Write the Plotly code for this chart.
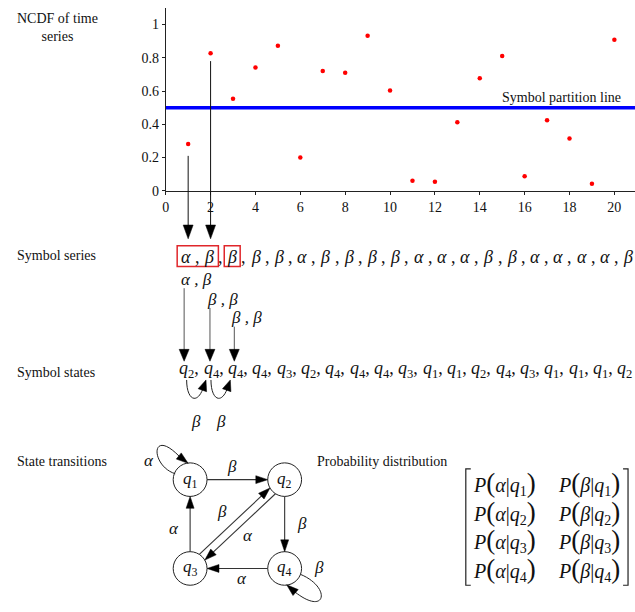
import math
import plotly.graph_objects as go

W, H = 635, 612
SERIF = "Liberation Serif"

# ---------------- data ----------------
time_index = list(range(1, 21))
ncdf_values = [0.281, 0.827, 0.554, 0.742, 0.873, 0.200, 0.720, 0.710, 0.933, 0.603,
               0.061, 0.055, 0.412, 0.677, 0.810, 0.087, 0.424, 0.315, 0.042, 0.909]
partition_level = 0.5
symbol_series = ['α', 'β', 'β', 'β', 'β', 'α', 'β', 'β', 'β', 'β',
                 'α', 'α', 'α', 'β', 'β', 'α', 'α', 'α', 'α', 'β']
state_series = [2, 4, 4, 4, 3, 2, 4, 4, 4, 3, 1, 1, 2, 4, 3, 1, 1, 1, 2]
x_tick_vals = list(range(0, 21, 2))
y_tick_vals = [0, 0.2, 0.4, 0.6, 0.8, 1]
y_tick_text = ['0', '0.2', '0.4', '0.6', '0.8', '1']
marked_index = [1, 2]
marked_line_top = [0.21, 0.78]
pair_texts = ['α , β', 'β , β', 'β , β']
state_ids = [1, 2, 3, 4]
transitions = [(1, 2, 'β'), (2, 4, 'β'), (4, 3, 'α'), (3, 1, 'α'), (3, 2, 'β'), (2, 3, 'α')]
loop_labels = {1: 'α', 4: 'β'}
matrix_symbols = ['α', 'β']

# ---------------- geometry (window pixels) ----------------
X_LEFT, Y_BOTTOM, Y_TOP = 163.5, 193.3, 8.0
X_MAX, Y_MAX = 20.92, 1.1


def fx(v):
    return v / W


def fy(v):
    return 1 - v / H


def dpx(x):
    return X_LEFT + x * (W - X_LEFT) / X_MAX


def dpy(y):
    return Y_BOTTOM - y * (Y_BOTTOM - Y_TOP) / Y_MAX


shapes = []
annotations = []


def unit(dx, dy):
    n = math.hypot(dx, dy)
    return dx / n, dy / n


def arrowhead(tip, direction, length=12, width=9, color='black'):
    tx, ty = tip
    dx, dy = unit(*direction)
    bx, by = tx - dx * length, ty - dy * length
    nx, ny = -dy, dx
    p1 = (bx + nx * width / 2, by + ny * width / 2)
    p2 = (bx - nx * width / 2, by - ny * width / 2)
    path = (f"M {fx(tx)},{fy(ty)} L {fx(p1[0])},{fy(p1[1])} "
            f"L {fx(p2[0])},{fy(p2[1])} Z")
    shapes.append(dict(type='path', xref='paper', yref='paper', path=path,
                       fillcolor=color, line=dict(color=color, width=0.5)))


def line(x0, y0, x1, y1, color='#333', width=1):
    shapes.append(dict(type='line', xref='paper', yref='paper',
                       x0=fx(x0), y0=fy(y0), x1=fx(x1), y1=fy(y1),
                       line=dict(color=color, width=width)))


def bezier(pts, color='#333', width=1):
    (x0, y0), (x1, y1), (x2, y2), (x3, y3) = pts
    path = (f"M {fx(x0)},{fy(y0)} C {fx(x1)},{fy(y1)} {fx(x2)},{fy(y2)} "
            f"{fx(x3)},{fy(y3)}")
    shapes.append(dict(type='path', xref='paper', yref='paper', path=path,
                       line=dict(color=color, width=width)))


def label(x, y, text, size=14, xanchor='center', yanchor='middle', color='#111'):
    annotations.append(dict(x=fx(x), y=fy(y), xref='paper', yref='paper', text=text,
                            showarrow=False, xanchor=xanchor, yanchor=yanchor,
                            font=dict(family=SERIF, size=size, color=color)))


# ---------------- row labels ----------------
label(55, 28, 'NCDF of time<br>series', 14)
label(12, 259, 'Symbol series', 14, xanchor='left')
label(12, 377, 'Symbol states', 14, xanchor='left')
label(12, 468, 'State transitions', 14, xanchor='left')
label(381, 468, 'Probability distribution', 14)
label(623, dpy(partition_level) - 10, 'Symbol partition line', 14, xanchor='right')

# ---------------- arrows from data points ----------------
SYM_Y = 260
ARROW_TIP_Y = 242
for xi, yt in zip(marked_index, marked_line_top):
    xp = dpx(xi)
    line(xp, dpy(yt), xp, ARROW_TIP_Y - 10, color='#111')
    arrowhead((xp, ARROW_TIP_Y), (0, 1), length=14, width=10)


# ---------------- symbol series ----------------
def sym_x(i):
    return 183.5 + i * 23.4


for i, s in enumerate(symbol_series):
    label(sym_x(i), SYM_Y, f'<i>{s}</i>', 18)
    if i < len(symbol_series) - 1:
        label(sym_x(i) + 11.7, SYM_Y, ',', 18)

red = '#e0262b'
shapes.append(dict(type='rect', xref='paper', yref='paper',
                   x0=fx(sym_x(0) - 8.5), x1=fx(sym_x(1) + 9.5), y0=fy(270), y1=fy(249),
                   line=dict(color=red, width=1.5)))
shapes.append(dict(type='rect', xref='paper', yref='paper',
                   x0=fx(sym_x(2) - 8), x1=fx(sym_x(2) + 8), y0=fy(270), y1=fy(249),
                   line=dict(color=red, width=1.5)))

# ---------------- symbol states ----------------
Q_Y = 374


def q_cx(j):
    return 182.5 + j * 24.45


for j, q in enumerate(state_series):
    txt = f'<i>q</i><sub>{q}</sub>' + (',' if j < len(state_series) - 1 else '')
    label(q_cx(j) - 7.5, Q_Y, txt, 18, xanchor='left')

# pairs and arrows into states
pair_y = [283, 303, 322]
for k, (pt, py_) in enumerate(zip(pair_texts, pair_y)):
    xl = q_cx(k) - 0.5 + (1.5 if k else 0)
    label(xl - 5, py_, f'<i>{pt}</i>', 17, xanchor='left')
    line(xl, py_ + 9, xl, 356, color='#555')
    arrowhead((xl, 366), (0, 1), length=12, width=10)

# curved beta transitions under the states row
for k in range(2):
    sx = q_cx(k) + 2
    tip = (q_cx(k + 1) - 3, 385)
    d = unit(0.35, -1)
    base = (tip[0] - d[0] * 10, tip[1] - d[1] * 10)
    bezier([(sx, 385), (sx, 405), (base[0] - 6, 410), base], color='#222', width=1)
    arrowhead(tip, d, length=11, width=9)
    label((sx + tip[0]) / 2, 427, '<i>β</i>', 17)

# ---------------- state transition diagram ----------------
R = 17
centers = {1: (188, 486), 2: (283, 486), 3: (188, 576), 4: (283, 576)}
for s in state_ids:
    cx, cy = centers[s]
    shapes.append(dict(type='circle', xref='paper', yref='paper',
                       x0=fx(cx - R), x1=fx(cx + R), y0=fy(cy + R), y1=fy(cy - R),
                       line=dict(color='#222', width=1)))
    label(cx, cy, f'<i>q</i><sub>{s}</sub>', 17)

edge_label_pos = {(1, 2): (230, 473), (2, 4): (300, 530), (4, 3): (240, 586),
                  (3, 1): (172, 535), (3, 2): (220, 518), (2, 3): (246, 543)}
pairs_set = {(t[0], t[1]) for t in transitions}
for a, b, lab in transitions:
    (x1, y1), (x2, y2) = centers[a], centers[b]
    ux, uy = unit(x2 - x1, y2 - y1)
    off = 4.0 if (b, a) in pairs_set else 0.0
    ox, oy = off * uy, -off * ux
    s = math.sqrt(R * R - off * off)
    start = (x1 + ox + s * ux, y1 + oy + s * uy)
    tip = (x2 + ox - s * ux, y2 + oy - s * uy)
    line(start[0], start[1], tip[0] - 8 * ux, tip[1] - 8 * uy, color='#333', width=1.1)
    arrowhead(tip, (ux, uy), length=12, width=8)
    lx, ly = edge_label_pos[(a, b)]
    label(lx, ly, f'<i>{lab}</i>', 17)

# self loops
c1 = centers[1]
tip1 = (c1[0] - 2, c1[1] - R + 0.5)
d1 = unit(0.78, 0.62)
b1 = (tip1[0] - d1[0] * 11, tip1[1] - d1[1] * 11)
bezier([(c1[0] - 15, c1[1] - 6), (148, 472), (148, 432), b1], color='#222')
arrowhead(tip1, d1, length=12, width=8)
label(147, 467, f'<i>{loop_labels[1]}</i>', 17)

c4 = centers[4]
tip4 = (c4[0] + 2, c4[1] + R - 0.5)
d4 = unit(-0.75, -0.66)
b4 = (tip4[0] - d4[0] * 11, tip4[1] - d4[1] * 11)
bezier([(c4[0] + 16, c4[1] + 6), (330, 595), (325, 625), b4], color='#222')
arrowhead(tip4, d4, length=12, width=8)
label(318, 575, f'<i>{loop_labels[4]}</i>', 17)

# ---------------- probability matrix ----------------
row_y = [490, 519, 548, 577]
col_x = [504, 589]
BIG = '<span style="font-size:27px">'
for r, s in enumerate(state_ids):
    for c, sym in enumerate(matrix_symbols):
        txt = (f'<i>P</i>{BIG}(</span><i>{sym}</i>|<i>q</i><sub>{s}</sub>{BIG})</span>')
        label(col_x[c], row_y[r], txt, 20)

for xb, sgn in [(465, 1), (628, -1)]:
    path = (f"M {fx(xb + sgn * 5)},{fy(475)} L {fx(xb)},{fy(475)} "
            f"L {fx(xb)},{fy(593)} L {fx(xb + sgn * 5)},{fy(593)}")
    shapes.append(dict(type='path', xref='paper', yref='paper', path=path,
                       line=dict(color='#222', width=1.2)))

# ---------------- figure ----------------
fig = go.Figure()
fig.add_trace(go.Scatter(x=[0, X_MAX], y=[partition_level, partition_level], mode='lines',
                         line=dict(color='#0000ff', width=3.5), showlegend=False,
                         hoverinfo='skip'))
fig.add_trace(go.Scatter(x=time_index, y=ncdf_values, mode='markers',
                         marker=dict(color='#ff0000', size=4.5), showlegend=False,
                         hoverinfo='skip'))

axis_common = dict(showline=True, linecolor='#222', linewidth=1, ticks='outside',
                   ticklen=3, tickcolor='#222', showgrid=False, zeroline=False,
                   tickfont=dict(family=SERIF, size=14, color='#111'), fixedrange=True)
fig.update_layout(
    width=W, height=H,
    margin=dict(l=0, r=0, t=0, b=0),
    paper_bgcolor='white', plot_bgcolor='white',
    xaxis=dict(domain=[fx(X_LEFT), 1], range=[0, X_MAX], tickvals=x_tick_vals,
               anchor='y', **axis_common),
    yaxis=dict(domain=[fy(Y_BOTTOM), fy(Y_TOP)], range=[0, Y_MAX],
               tickvals=y_tick_vals, ticktext=y_tick_text, anchor='x', **axis_common),
    shapes=shapes,
    annotations=annotations,
    showlegend=False,
)

fig.write_html("out.html",
               config={'displayModeBar': False},
               post_script="document.body.style.margin='0';"
                           "document.body.style.overflow='hidden';")
